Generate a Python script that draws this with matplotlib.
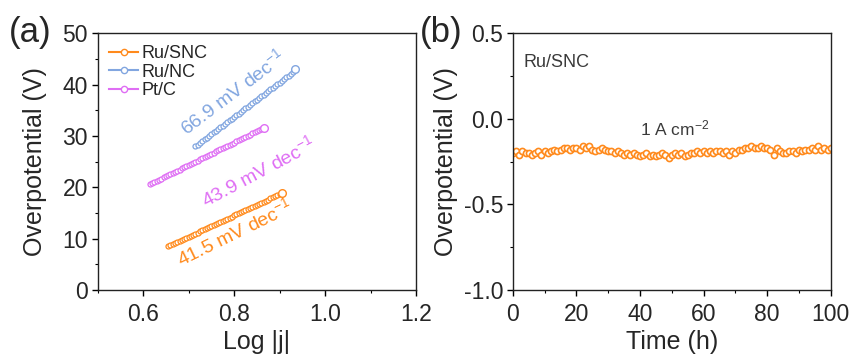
import numpy as np
import matplotlib
matplotlib.use("Agg")
import matplotlib.pyplot as plt
from matplotlib.ticker import MultipleLocator

plt.rcParams['font.family'] = ['Liberation Sans', 'DejaVu Sans']
plt.rcParams['mathtext.fontset'] = 'custom'
plt.rcParams['mathtext.rm'] = 'Liberation Sans'
plt.rcParams['mathtext.default'] = 'regular'
plt.rcParams['axes.unicode_minus'] = False

# ---- panel (a): Tafel data ----
snc_x = [0.655, 0.660, 0.665, 0.670, 0.675, 0.680, 0.685, 0.690, 0.695, 0.700,
         0.705, 0.710, 0.715, 0.720, 0.725, 0.730, 0.735, 0.740, 0.745, 0.750,
         0.755, 0.760, 0.765, 0.770, 0.775, 0.780, 0.785, 0.790, 0.795, 0.800,
         0.805, 0.810, 0.815, 0.820, 0.825, 0.830, 0.835, 0.840, 0.845, 0.850,
         0.855, 0.860, 0.865, 0.870, 0.875, 0.880, 0.885, 0.890, 0.895, 0.900,
         0.905]
snc_y = [8.50, 8.71, 8.92, 9.12, 9.33, 9.54, 9.75, 9.95, 10.16, 10.37,
         10.58, 10.78, 10.99, 11.20, 11.41, 11.61, 11.82, 12.03, 12.24, 12.44,
         12.65, 12.86, 13.07, 13.27, 13.48, 13.69, 13.90, 14.10, 14.31, 14.52,
         14.73, 14.93, 15.14, 15.35, 15.56, 15.76, 15.97, 16.18, 16.39, 16.59,
         16.80, 17.01, 17.22, 17.42, 17.63, 17.84, 18.05, 18.25, 18.46, 18.67,
         18.90]
nc_x = [0.715, 0.720, 0.725, 0.730, 0.735, 0.740, 0.745, 0.750, 0.755, 0.760,
        0.765, 0.770, 0.775, 0.780, 0.785, 0.790, 0.795, 0.800, 0.805, 0.810,
        0.815, 0.820, 0.825, 0.830, 0.835, 0.840, 0.845, 0.850, 0.855, 0.860,
        0.865, 0.870, 0.875, 0.880, 0.885, 0.890, 0.895, 0.900, 0.905, 0.910,
        0.915, 0.920, 0.925, 0.930, 0.935]
nc_y = [28.00, 28.33, 28.67, 29.00, 29.34, 29.67, 30.01, 30.34, 30.68, 31.01,
        31.35, 31.68, 32.01, 32.35, 32.68, 33.02, 33.35, 33.69, 34.02, 34.36,
        34.69, 35.02, 35.36, 35.69, 36.03, 36.36, 36.70, 37.03, 37.37, 37.70,
        38.04, 38.37, 38.70, 39.04, 39.37, 39.71, 40.04, 40.38, 40.71, 41.05,
        41.38, 41.71, 42.05, 42.38, 43.00]
ptc_x = [0.615, 0.620, 0.625, 0.630, 0.635, 0.640, 0.645, 0.650, 0.655, 0.660,
         0.665, 0.670, 0.675, 0.680, 0.685, 0.690, 0.695, 0.700, 0.705, 0.710,
         0.715, 0.720, 0.725, 0.730, 0.735, 0.740, 0.745, 0.750, 0.755, 0.760,
         0.765, 0.770, 0.775, 0.780, 0.785, 0.790, 0.795, 0.800, 0.805, 0.810,
         0.815, 0.820, 0.825, 0.830, 0.835, 0.840, 0.845, 0.850, 0.855, 0.860,
         0.865]
ptc_y = [20.60, 20.82, 21.04, 21.26, 21.48, 21.70, 21.92, 22.14, 22.36, 22.58,
         22.80, 23.01, 23.23, 23.45, 23.67, 23.89, 24.11, 24.33, 24.55, 24.77,
         24.99, 25.21, 25.43, 25.65, 25.87, 26.09, 26.31, 26.53, 26.75, 26.97,
         27.19, 27.40, 27.62, 27.84, 28.06, 28.28, 28.50, 28.72, 28.94, 29.16,
         29.38, 29.60, 29.82, 30.04, 30.26, 30.48, 30.70, 30.92, 31.14, 31.36,
         31.58]
slopes = ['66.9', '43.9', '41.5']

# ---- panel (b): stability data ----
time_h = list(range(0, 101))
eta_v = [-0.20, -0.19, -0.21, -0.19, -0.20, -0.20, -0.21, -0.20, -0.19, -0.21, -0.19,
         -0.20, -0.19, -0.18, -0.19, -0.18, -0.17, -0.17, -0.18, -0.17, -0.17,
         -0.18, -0.16, -0.17, -0.16, -0.18, -0.19, -0.18, -0.17, -0.18, -0.19,
         -0.19, -0.20, -0.19, -0.20, -0.21, -0.20, -0.21, -0.20, -0.21, -0.22,
         -0.21, -0.20, -0.22, -0.21, -0.22, -0.21, -0.20, -0.21, -0.23, -0.21,
         -0.20, -0.21, -0.20, -0.22, -0.21, -0.20, -0.20, -0.19, -0.20, -0.19,
         -0.20, -0.19, -0.20, -0.19, -0.19, -0.20, -0.19, -0.21, -0.19, -0.20,
         -0.18, -0.18, -0.17, -0.17, -0.16, -0.17, -0.17, -0.16, -0.17, -0.17,
         -0.18, -0.21, -0.17, -0.19, -0.20, -0.20, -0.19, -0.19, -0.20, -0.18,
         -0.19, -0.18, -0.18, -0.17, -0.18, -0.16, -0.18, -0.17, -0.18, -0.17]

c_org = '#ff8a1c'
c_blu = '#82a6e0'
c_pur = '#df6ef4'
c_txt = '#262626'

fig = plt.figure(figsize=(8.49, 3.56), dpi=100)
ax1 = fig.add_axes([0.115, 0.185, 0.375, 0.722])
ax2 = fig.add_axes([0.604, 0.185, 0.3746, 0.722])

ms = 3.6
for xs, ys, col, lab in [(snc_x, snc_y, c_org, 'Ru/SNC'),
                         (nc_x, nc_y, c_blu, 'Ru/NC'),
                         (ptc_x, ptc_y, c_pur, 'Pt/C')]:
    ax1.plot(xs, ys, 'o', mfc='white', mec=col, mew=0.9, ms=ms)
    ax1.plot(xs[-1:], ys[-1:], 'o', mfc='white', mec=col, mew=1.0, ms=5.5)
    # legend proxy with line + marker
    ax1.plot([], [], '-o', color=col, mfc='white', mec=col, mew=1.0, ms=4.5,
             lw=1.5, label=lab)

ax1.set_xlim(0.5, 1.2)
ax1.set_ylim(0, 50)
ax1.xaxis.set_major_locator(MultipleLocator(0.2))
ax1.xaxis.set_minor_locator(MultipleLocator(0.1))
ax1.yaxis.set_major_locator(MultipleLocator(10))
ax1.yaxis.set_minor_locator(MultipleLocator(5))
ax1.set_xticks([0.6, 0.8, 1.0, 1.2])
ax1.set_xticklabels(['0.6', '0.8', '1.0', '1.2'])
ax1.set_xlabel('Log |j|', fontsize=18, labelpad=3, color=c_txt)
ax1.set_ylabel('Overpotential (V)', fontsize=18, labelpad=11, color=c_txt)

leg = ax1.legend(loc='upper left', frameon=False, fontsize=13, handlelength=1.6,
                 handletextpad=0.2, labelspacing=0.1, borderaxespad=0.25,
                 bbox_to_anchor=(0.0, 1.0))
for t in leg.get_texts():
    t.set_color(c_txt)

ax1.text(0.796, 38.5, r'%s mV dec$^{-1}$' % slopes[0], color=c_blu, fontsize=14,
         rotation=37, ha='center', va='center', rotation_mode='anchor')
ax1.text(0.853, 23.0, r'%s mV dec$^{-1}$' % slopes[1], color=c_pur, fontsize=14,
         rotation=28, ha='center', va='center', rotation_mode='anchor')
ax1.text(0.80, 11.2, r'%s mV dec$^{-1}$' % slopes[2], color=c_org, fontsize=14,
         rotation=26, ha='center', va='center', rotation_mode='anchor')

ax2.plot(time_h, eta_v, 'o', mfc='white', mec=c_org, mew=1.2, ms=4.4)
ax2.set_xlim(0, 100)
ax2.set_ylim(-1.0, 0.5)
ax2.xaxis.set_major_locator(MultipleLocator(20))
ax2.xaxis.set_minor_locator(MultipleLocator(10))
ax2.yaxis.set_major_locator(MultipleLocator(0.5))
ax2.yaxis.set_minor_locator(MultipleLocator(0.25))
ax2.set_yticks([0.5, 0.0, -0.5, -1.0])
ax2.set_yticklabels(['0.5', '0.0', '-0.5', '-1.0'])
ax2.set_xlabel('Time (h)', fontsize=18, labelpad=3, color=c_txt)
ax2.set_ylabel('Overpotential (V)', fontsize=18, labelpad=4, color=c_txt)
ax2.text(3.5, 0.33, 'Ru/SNC', fontsize=13, color='#3a3a3a', va='center')
ax2.text(51, -0.055, r'1 A cm$^{-2}$', fontsize=12.5, color='#3a3a3a',
         ha='center', va='center')

for ax in (ax1, ax2):
    ax.tick_params(which='major', direction='out', length=4, width=1,
                   labelsize=16.5, top=False, right=False, labelcolor=c_txt)
    ax.tick_params(axis='x', which='major', pad=5)
    ax.tick_params(axis='y', which='major', pad=3)
    ax.tick_params(which='minor', direction='out', length=2.5, width=0.8,
                   top=False, right=False)
    for s in ax.spines.values():
        s.set_linewidth(1.0)
        s.set_color('#222222')

fig.text(0.010, 0.908, '(a)', fontsize=25, va='center', color=c_txt)
fig.text(0.494, 0.908, '(b)', fontsize=25, va='center', color=c_txt)

fig.savefig('out.png', dpi=100)
